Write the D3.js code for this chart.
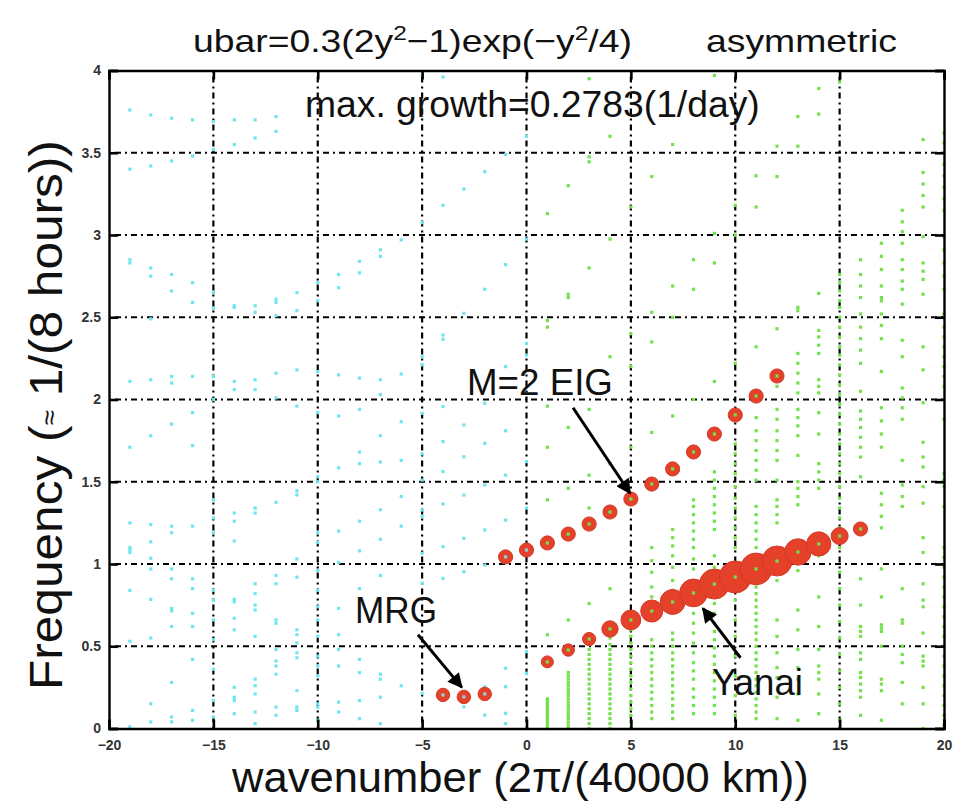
<!DOCTYPE html>
<html>
<head>
<meta charset="utf-8">
<script src="https://cdn.jsdelivr.net/npm/d3@7"></script>
<style>
  body { margin: 0; background: #fff; }
  text { font-family: "Liberation Sans", Arial, Helvetica, sans-serif; }
</style>
</head>
<body>
<div id="chart"></div>
<script>
// ---- red circles: frequency and growth rate ----
var eigK = [-1, 0, 1, 2, 3, 4, 5, 6, 7, 8, 9, 10, 11, 12];
var eigF = [1.043, 1.085, 1.128, 1.182, 1.243, 1.316, 1.395, 1.486, 1.578, 1.681, 1.790, 1.906, 2.021, 2.143];
var eigGrowth = [0.03, 0.03, 0.03, 0.03, 0.03, 0.03, 0.03, 0.03, 0.03, 0.03, 0.03, 0.03, 0.03, 0.03];

var yanaiK = [1, 2, 3, 4, 5, 6, 7, 8, 9, 10, 11, 12, 13, 14, 15, 16];
var yanaiF = [0.405, 0.477, 0.544, 0.605, 0.660, 0.714, 0.769, 0.824, 0.878, 0.921, 0.970, 1.018, 1.073, 1.122, 1.170, 1.213];
var yanaiGrowth = [0.0, 0.005, 0.015, 0.06, 0.11, 0.14, 0.18, 0.22, 0.25, 0.2783, 0.275, 0.25, 0.20, 0.17, 0.07, 0.03];

var mrgK = [-4, -3, -2];
var mrgF = [0.204, 0.192, 0.210];
var mrgGrowth = [0.02, 0.02, 0.02];

// ---- all eigen-frequencies, westward (cyan) and eastward (green) ----
var westCols = [
  [-19, [3.76, 3.40, 2.85, 2.83, 2.11, 1.71, 1.25, 1.10, 1.085, 1.07, 0.84, 0.53, 0.01]],
  [-18, [3.73, 3.42, 2.80, 2.75, 2.49, 2.12, 1.78, 1.24, 1.135, 1.035, 0.97, 0.785, 0.55, 0.15, 0.04]],
  [-17, [3.71, 3.45, 2.76, 2.66, 2.14, 2.10, 1.85, 1.23, 1.19, 0.97, 0.91, 0.73, 0.715, 0.62, 0.28, 0.07, 0.04]],
  [-16, [3.70, 3.48, 2.71, 2.59, 2.14, 1.92, 1.72, 1.23, 0.91, 0.85, 0.70, 0.62, 0.42, 0.11, 0.05]],
  [-15, [3.69, 3.52, 2.65, 2.555, 2.14, 2.00, 1.39, 1.28, 1.19, 0.84, 0.78, 0.66, 0.54, 0.36, 0.17, 0.07]],
  [-14, [3.70, 3.55, 2.57, 2.56, 2.11, 2.06, 1.31, 1.26, 1.14, 0.785, 0.77, 0.67, 0.60, 0.25, 0.19, 0.17, 0.09]],
  [-13, [3.70, 3.59, 2.57, 2.53, 2.12, 2.06, 1.34, 1.31, 0.88, 0.82, 0.75, 0.72, 0.56, 0.30, 0.26, 0.21, 0.10, 0.03]],
  [-12, [3.72, 3.63, 2.61, 2.59, 2.51, 2.16, 2.01, 1.375, 0.93, 0.88, 0.66, 0.64, 0.48, 0.41, 0.38, 0.33, 0.13, 0.08]],
  [-11, [2.65, 2.54, 2.18, 1.96, 1.445, 1.42, 1.03, 0.92, 0.60, 0.57, 0.52, 0.46, 0.43, 0.23, 0.13, 0.11]],
  [-10, [2.71, 2.60, 2.17, 1.92, 1.53, 1.50, 1.19, 1.13, 0.96, 0.84, 0.74, 0.66, 0.56, 0.44, 0.38, 0.32, 0.15, 0.13, 0.05]],
  [-9, [2.76, 2.68, 2.15, 1.90, 1.585, 1.20, 1.01, 0.73, 0.57, 0.48, 0.38, 0.16, 0.10]],
  [-8, [2.84, 2.77, 2.13, 1.94, 1.68, 1.61, 1.26, 1.08, 0.85, 0.42, 0.34, 0.17, 0.06]],
  [-7, [2.91, 2.87, 2.12, 2.03, 1.78, 1.62, 1.33, 1.15, 0.93, 0.33, 0.30, 0.19, 0.03]],
  [-6, [2.97, 2.155, 1.865, 1.63, 1.41, 1.23, 0.26]],
  [-5, [3.97, 3.075, 2.26, 2.21, 1.916, 1.67, 1.51, 1.328, 1.288, 1.065, 0.883, 0.213, 0.0]],
  [-4, [3.96, 3.18, 2.392, 2.366, 1.957, 1.744, 1.562, 1.365, 1.106, 0.913]],
  [-3, [3.28, 2.524, 1.845, 1.652, 1.419, 1.156, 0.953, 0.132]],
  [-2, [3.385, 2.67, 1.977, 1.733, 1.48, 1.207, 0.994, 0.254, 0.081]],
  [-1, [3.49, 2.82, 2.20, 1.81, 1.54, 1.267, 0.366, 0.254, 0.092, 0.03]],
  [0, [3.60, 2.975, 2.34, 2.27, 1.622, 1.34, 0.467, 0.336, 0.0]]
];

var eastCols = [
  [1, [0.0, 0.015, 0.03, 0.045, 0.06, 0.075, 0.09, 0.105, 0.12, 0.135, 0.15, 0.165, 0.18, 0.57, 1.39, 1.71, 1.96, 2.44, 2.48, 3.13]],
  [2, [0.0, 0.02, 0.04, 0.06, 0.08, 0.10, 0.12, 0.14, 0.16, 0.18, 0.20, 0.22, 0.24, 0.26, 0.28, 0.30, 0.32, 0.34, 0.66, 1.46, 1.83, 2.62, 2.64, 3.30]],
  [3, [0.0, 0.03, 0.06, 0.09, 0.12, 0.15, 0.18, 0.21, 0.24, 0.27, 0.30, 0.33, 0.36, 0.39, 0.42, 0.45, 0.48, 0.51, 0.76, 1.34, 1.54, 1.94, 2.80, 3.445, 3.475, 3.95]],
  [4, [0.0, 0.03, 0.06, 0.09, 0.12, 0.15, 0.18, 0.21, 0.24, 0.27, 0.30, 0.33, 0.36, 0.39, 0.42, 0.45, 0.48, 0.51, 0.55, 0.85, 1.61, 2.26, 2.975, 3.60]],
  [5, [0.0, 0.04, 0.08, 0.12, 0.16, 0.20, 0.24, 0.28, 0.32, 0.36, 0.40, 0.44, 0.48, 0.52, 0.56, 0.60, 1.71, 2.20, 2.40, 3.17]],
  [6, [0.06, 0.10, 0.14, 0.18, 0.22, 0.26, 0.30, 0.34, 0.38, 0.42, 0.46, 0.50, 0.54, 0.80, 0.86, 0.95, 1.02, 1.10, 1.80, 2.35, 2.53, 3.355]],
  [7, [0.06, 0.10, 0.14, 0.18, 0.22, 0.26, 0.30, 0.34, 0.38, 0.42, 0.46, 0.50, 0.54, 0.58, 0.84, 0.90, 0.98, 1.05, 1.11, 1.16, 1.21, 1.90, 2.50, 2.69, 3.55]],
  [8, [0.09, 0.14, 0.19, 0.24, 0.30, 0.35, 0.40, 0.46, 0.52, 0.58, 0.64, 0.70, 0.90, 0.97, 1.03, 1.10, 1.15, 1.20, 1.25, 1.30, 1.35, 1.39, 2.00, 2.67, 2.85]],
  [9, [0.09, 0.14, 0.19, 0.24, 0.29, 0.34, 0.39, 0.44, 0.49, 0.54, 0.59, 0.64, 0.70, 0.76, 0.98, 1.05, 1.21, 1.26, 1.31, 1.36, 1.41, 1.46, 1.51, 1.56, 2.11, 2.83, 3.01, 3.97]],
  [10, [0.08, 0.20, 0.32, 0.44, 0.56, 0.66, 0.78, 1.10, 1.16, 1.22, 1.28, 1.34, 1.40, 1.47, 1.55, 1.61, 1.67, 1.73, 2.22, 3.00, 3.18]],
  [11, [0.06, 0.10, 0.14, 0.18, 0.22, 0.26, 0.30, 0.34, 0.38, 0.42, 0.46, 0.50, 0.54, 0.58, 0.62, 0.66, 0.70, 0.74, 0.78, 0.82, 0.86, 1.10, 1.15, 1.20, 1.25, 1.30, 1.35, 1.51, 1.57, 1.63, 1.69, 1.75, 1.81, 1.89, 2.32, 3.17, 3.36]],
  [12, [0.06, 0.19, 0.31, 0.37, 0.46, 0.56, 0.66, 0.90, 1.25, 1.30, 1.35, 1.39, 1.51, 1.63, 1.69, 1.75, 1.81, 1.88, 1.94, 2.08, 2.43, 3.355, 3.54]],
  [13, [0.05, 0.21, 0.30, 0.37, 0.48, 0.60, 0.72, 0.96, 1.36, 1.41, 1.46, 1.50, 1.66, 1.78, 1.84, 1.89, 1.94, 2.04, 2.10, 2.16, 2.22, 2.28, 2.54, 2.56, 3.54, 3.72]],
  [14, [0.09, 0.21, 0.30, 0.34, 0.38, 0.48, 0.62, 0.80, 1.05, 1.46, 1.51, 1.56, 1.61, 1.79, 1.92, 2.04, 2.08, 2.12, 2.28, 2.33, 2.38, 2.42, 2.645, 3.735, 3.89]],
  [15, [0.05, 0.15, 0.25, 0.35, 0.45, 0.55, 0.65, 0.75, 0.85, 0.95, 1.10, 1.16, 1.22, 1.28, 1.34, 1.40, 1.47, 1.55, 1.61, 1.67, 1.73, 1.79, 1.85, 1.91, 1.97, 2.03, 2.09, 2.15, 2.21, 2.27, 2.32, 2.38, 2.44, 2.50, 2.56, 2.60, 2.66, 2.71, 2.76, 3.93]],
  [16, [0.08, 0.19, 0.23, 0.27, 0.31, 0.34, 0.42, 0.46, 0.56, 0.59, 0.62, 0.75, 0.91, 1.53, 1.65, 1.71, 1.77, 1.83, 1.88, 1.93, 2.05, 2.22, 2.30, 2.37, 2.44, 2.52, 2.62, 2.69, 2.76, 2.85]],
  [17, [0.05, 0.23, 0.27, 0.30, 0.50, 0.59, 0.61, 0.63, 0.80, 0.97, 1.22, 1.29, 1.36, 1.43, 1.71, 1.79, 1.87, 1.95, 2.17, 2.37, 2.45, 2.52, 2.60, 2.62, 2.69, 2.79, 2.87, 2.95]],
  [18, [0.15, 0.28, 0.40, 0.45, 0.50, 0.64, 0.66, 0.85, 1.35, 1.41, 1.48, 1.63, 1.88, 1.95, 2.01, 2.07, 2.26, 2.36, 2.58, 2.67, 2.72, 2.79, 2.85, 2.95, 3.02, 3.08, 3.15]],
  [19, [0.0, 0.15, 0.25, 0.38, 0.41, 0.44, 0.58, 0.74, 0.78, 0.88, 1.07, 1.16, 1.37, 1.47, 1.59, 1.65, 1.74, 1.98, 2.18, 2.32, 2.64, 2.73, 2.78, 2.83, 2.99, 3.17, 3.24, 3.31, 3.38, 3.58]],
  [20, [0.02, 0.08, 0.14, 0.20, 0.26, 0.32, 0.38, 0.44, 0.50, 0.56, 0.62, 0.68, 0.74, 0.80, 0.86, 0.92, 0.98, 1.04, 1.10, 1.35, 1.47, 1.51, 1.55, 1.88, 2.08, 2.14, 2.20, 2.26, 2.32, 2.38, 2.44, 2.52, 2.67, 2.75, 2.83, 2.91, 2.99, 3.15, 3.22, 3.29, 3.36, 3.43, 3.50, 3.56, 3.62]]
];

var xTicks = [-20, -15, -10, -5, 0, 5, 10, 15, 20];
var yTicks = [0, 0.5, 1, 1.5, 2, 2.5, 3, 3.5, 4];

var width = 956, height = 804;
var x = d3.scaleLinear().domain([-20, 20]).range([109, 944]);
var y = d3.scaleLinear().domain([0, 4]).range([728.5, 70.5]);
var rad = d3.scaleLinear().domain([0, 0.2783]).range([6, 16]);

var cyan = "#6ee6ef", green = "#74e04c", red = "#e4402a";

var svg = d3.select("#chart").append("svg")
    .attr("width", width)
    .attr("height", height);

// squeeze text horizontally to the width seen in the picture
function squeeze(t, w) {
  var b = t.node().getBBox();
  var s = w / b.width;
  t.attr("transform", "translate(" + b.x + ",0) scale(" + s + ",1) translate(" + (-b.x) + ",0)");
}

// grid
var grid = svg.append("g")
    .attr("stroke", "#000")
    .attr("stroke-width", 2.2)
    .attr("stroke-dasharray", "2,4,6,4");
grid.selectAll(".gx").data(xTicks.slice(1, -1)).enter().append("line")
    .attr("x1", d => x(d)).attr("x2", d => x(d))
    .attr("y1", y(0)).attr("y2", y(4));
grid.selectAll(".gy").data(yTicks.slice(1, -1)).enter().append("line")
    .attr("y1", d => y(d)).attr("y2", d => y(d))
    .attr("x1", x(-20)).attr("x2", x(20));

// background dots
function flat(cols) {
  var out = [];
  cols.forEach(function(c) { c[1].forEach(function(f) { out.push([c[0], f]); }); });
  return out;
}
svg.append("g").selectAll("rect").data(flat(westCols)).enter().append("rect")
    .attr("x", d => x(d[0]) - 1.6).attr("y", d => y(d[1]) - 1.6)
    .attr("width", 3.2).attr("height", 3.2)
    .attr("fill", cyan);
svg.append("g").selectAll("rect").data(flat(eastCols)).enter().append("rect")
    .attr("x", d => x(d[0]) - 1.6).attr("y", d => y(d[1]) - 1.6)
    .attr("width", 3.2).attr("height", 3.2)
    .attr("fill", green);

// unstable modes
function modes(ks, fs, gs) {
  return ks.map(function(k, i) { return {k: k, f: fs[i], g: gs[i]}; });
}
var unstable = modes(eigK, eigF, eigGrowth)
    .concat(modes(mrgK, mrgF, mrgGrowth))
    .concat(modes(yanaiK, yanaiF, yanaiGrowth));

var circ = svg.append("g");
circ.selectAll("circle").data(unstable).enter().append("circle")
    .attr("cx", d => x(d.k)).attr("cy", d => y(d.f))
    .attr("r", d => rad(d.g))
    .attr("fill", red)
    .attr("stroke", "#d23a26")
    .attr("stroke-width", 1);
circ.selectAll("rect").data(unstable).enter().append("rect")
    .attr("x", d => x(d.k) - 1.6).attr("y", d => y(d.f) - 1.6)
    .attr("width", 3.2).attr("height", 3.2)
    .attr("fill", d => d.k > 0 ? green : "#8fd0d4");

// axes, ticks pointing inward
var fmt = d3.format("");
svg.append("g").attr("transform", "translate(0," + y(0) + ")")
    .call(d3.axisBottom(x).tickValues(xTicks).tickSize(-9).tickPadding(12).tickFormat(d => d < 0 ? "\u2212" + (-d) : d));
svg.append("g").attr("transform", "translate(0," + y(4) + ")")
    .call(d3.axisTop(x).tickValues(xTicks).tickSize(-9).tickFormat(""));
svg.append("g").attr("transform", "translate(" + x(-20) + ",0)")
    .call(d3.axisLeft(y).tickValues(yTicks).tickSize(-9).tickPadding(8).tickFormat(fmt));
svg.append("g").attr("transform", "translate(" + x(20) + ",0)")
    .call(d3.axisRight(y).tickValues(yTicks).tickSize(-9).tickFormat(""));
svg.selectAll(".domain").attr("stroke", "#000").attr("stroke-width", 2.4);
svg.selectAll(".tick line").attr("stroke", "#000").attr("stroke-width", 2.6);
svg.selectAll(".tick text")
    .attr("font-family", "Liberation Sans, Arial, sans-serif")
    .attr("font-size", 14)
    .attr("font-weight", "bold")
    .attr("fill", "#333");

// arrows
var arrows = [
  {from: [2.23, 1.95], to: [4.96, 1.43]},
  {from: [-5.2, 0.57], to: [-3.1, 0.25]},
  {from: [10.25, 0.43], to: [8.45, 0.73]}
];
svg.append("defs").append("marker")
    .attr("id", "head")
    .attr("viewBox", "0 0 10 10")
    .attr("refX", 9).attr("refY", 5)
    .attr("markerWidth", 6).attr("markerHeight", 5)
    .attr("markerUnits", "strokeWidth")
    .attr("orient", "auto")
  .append("path").attr("d", "M0,0L10,5L0,10z").attr("fill", "#000");
svg.append("g").selectAll("line").data(arrows).enter().append("line")
    .attr("x1", d => x(d.from[0])).attr("y1", d => y(d.from[1]))
    .attr("x2", d => x(d.to[0])).attr("y2", d => y(d.to[1]))
    .attr("stroke", "#000").attr("stroke-width", 3)
    .attr("marker-end", "url(#head)");

// texts
function label(str, px, py, size, w) {
  var t = svg.append("text").attr("x", px).attr("y", py)
      .attr("font-size", size).attr("fill", "#111").text(str);
  squeeze(t, w);
  return t;
}

var title = svg.append("text").attr("x", 193).attr("y", 52).attr("font-size", 32).attr("fill", "#111");
title.append("tspan").text("ubar=0.3(2y");
title.append("tspan").attr("font-size", 21).attr("dy", -12).text("2");
title.append("tspan").attr("dy", 12).text("\u22121)exp(\u2212y");
title.append("tspan").attr("font-size", 21).attr("dy", -12).text("2");
title.append("tspan").attr("dy", 12).text("/4)");
squeeze(title, 439);
label("asymmetric", 706, 52, 32, 191);

label("max. growth=0.2783(1/day)", 305, 117, 37, 455);
label("M=2 EIG", 467, 395, 37, 146);
label("MRG", 355, 623, 37, 82);
label("Yanai", 712, 695, 36, 91);

label("wavenumber (2\u03c0/(40000 km))", 232, 792, 42, 578);

var yl = svg.append("g").attr("transform", "translate(62,690) rotate(-90)");
var ylt = yl.append("text").attr("x", 0).attr("y", 0).attr("font-size", 46).attr("fill", "#111");
ylt.append("tspan").text("Frequency (");
ylt.append("tspan").attr("font-size", 26).attr("dy", -4).text("\u2248");
ylt.append("tspan").attr("dy", 4).text(" 1/(8 hours))");
squeeze(ylt, 550);
</script>
</body>
</html>
